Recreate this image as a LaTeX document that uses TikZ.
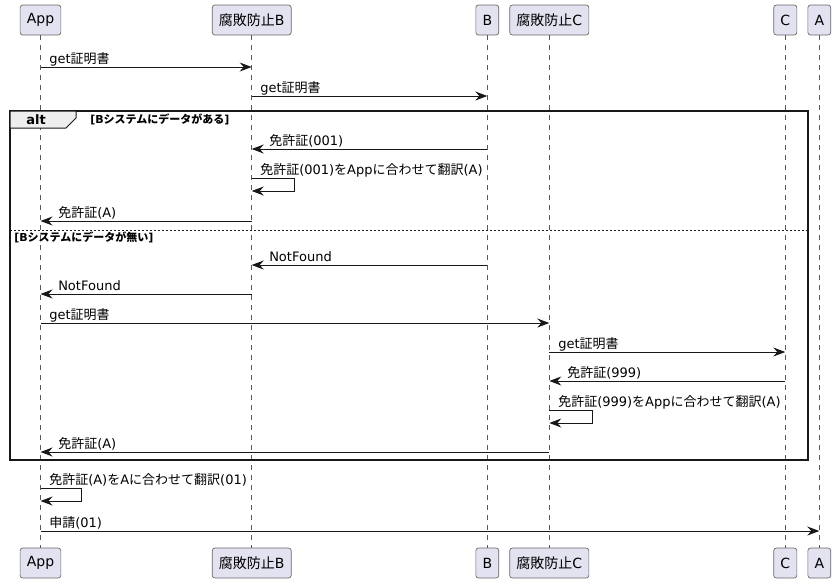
\documentclass[tikz,border=0pt]{standalone}
\usepackage{fontspec}
\setmainfont{DejaVu Sans}
\newfontfamily\jpfont{Noto Sans CJK JP}
\usetikzlibrary{arrows.meta}
\definecolor{partfill}{HTML}{E2E2F0}
\definecolor{linecol}{HTML}{181818}
\definecolor{tabfill}{HTML}{EEEEEE}

\begin{document}
\begin{tikzpicture}[x=0.75pt, y=-0.75pt, >={Stealth[length=9pt, width=6.75pt, inset=3pt]},
    part/.style={draw=black!60, fill=partfill, line width=0.5pt, rounded corners=2pt,
      minimum height=22.5pt, inner xsep=5pt, font=\fontsize{10.5}{12.6}\selectfont},
    lifeline/.style={draw=black!65, line width=0.4pt, dash pattern=on 3.75pt off 3.75pt},
    msg/.style={->, draw=linecol, line width=0.75pt},
    lbl/.style={anchor=base west, inner sep=0pt, font=\fontsize{9.75}{11.7}\selectfont},
    cond/.style={anchor=west, inner sep=0pt, font=\fontsize{8.25}{10}\selectfont\bfseries}]
    \useasboundingbox (0,0) rectangle (837,583);

    % Participants, top and bottom
    \node[part] (app) at (40.5,20) {App};
    \node[part] (acb) at (251.7,20) {{\jpfont 腐敗防止}B};
    \node[part] (sysb) at (487.3,20) {B};
    \node[part] (acc) at (549.3,20) {{\jpfont 腐敗防止}C};
    \node[part] (sysc) at (785.3,20) {C};
    \node[part] (sysa) at (819.3,20) {A};

    \node[part] (app2) at (40.5,563) {App};
    \node[part] (acb2) at (251.7,563) {{\jpfont 腐敗防止}B};
    \node[part] (sysb2) at (487.3,563) {B};
    \node[part] (acc2) at (549.3,563) {{\jpfont 腐敗防止}C};
    \node[part] (sysc2) at (785.3,563) {C};
    \node[part] (sysa2) at (819.3,563) {A};

    % Lifelines
    \foreach \p in {app, acb, sysb, acc, sysc, sysa}
      \draw[lifeline] (\p.south) -- (\p2.north);

    % Requests before the alt block
    \draw[msg] (app |- 0,67) -- (acb |- 0,67);
    \node[lbl] at (49,63) {get{\jpfont 証明書}};
    \draw[msg] (acb |- 0,96) -- (sysb |- 0,96);
    \node[lbl] at (260,92) {get{\jpfont 証明書}};

    % Alt frame
    \draw[draw=linecol, line width=1.125pt] (10,111) rectangle (808,460);
    \draw[draw=linecol, fill=tabfill, line width=0.75pt] (10,111) -- (76,111) -- (76,118) -- (66,128) -- (10,128) -- cycle;
    \node[font=\fontsize{9.75}{11.7}\selectfont\bfseries] (alt) at (36,119.5) {alt};
    \node[cond] (c1) at (90,119.5) {[B{\jpfont システムにデータがある}]};

    % Branch 1: data in B
    \draw[msg] (sysb |- 0,149) -- (acb |- 0,149);
    \node[lbl] at (269,145) {{\jpfont 免許証}(001)};
    \draw[msg] (acb |- 0,178) -- ++(43,0) -- ++(0,13) -- (acb |- 0,191);
    \node[lbl] at (260,174) {{\jpfont 免許証}(001){\jpfont を}App{\jpfont に合わせて翻訳}(A)};
    \draw[msg] (acb |- 0,221) -- (app |- 0,221);
    \node[lbl] at (58,217) {{\jpfont 免許証}(A)};

    % Else separator
    \draw[draw=linecol, line width=0.5pt, dash pattern=on 1.5pt off 1.5pt] (10,230) -- (808,230);
    \node[cond] (c2) at (14,237) {[B{\jpfont システムにデータが無い}]};

    % Branch 2: no data in B, ask C
    \draw[msg] (sysb |- 0,265) -- (acb |- 0,265);
    \node[lbl] at (269,261) {NotFound};
    \draw[msg] (acb |- 0,294) -- (app |- 0,294);
    \node[lbl] at (58,290) {NotFound};
    \draw[msg] (app |- 0,323) -- (acc |- 0,323);
    \node[lbl] at (49,319) {get{\jpfont 証明書}};
    \draw[msg] (acc |- 0,352) -- (sysc |- 0,352);
    \node[lbl] at (558,348) {get{\jpfont 証明書}};
    \draw[msg] (sysc |- 0,381) -- (acc |- 0,381);
    \node[lbl] at (567,377) {{\jpfont 免許証}(999)};
    \draw[msg] (acc |- 0,410) -- ++(43,0) -- ++(0,13) -- (acc |- 0,423);
    \node[lbl] at (558,406) {{\jpfont 免許証}(999){\jpfont を}App{\jpfont に合わせて翻訳}(A)};
    \draw[msg] (acc |- 0,452) -- (app |- 0,452);
    \node[lbl] at (58,448) {{\jpfont 免許証}(A)};

    % After the alt block
    \draw[msg] (app |- 0,488) -- ++(41,0) -- ++(0,13) -- (app |- 0,501);
    \node[lbl] at (49,484) {{\jpfont 免許証}(A){\jpfont を}A{\jpfont に合わせて翻訳}(01)};
    \draw[msg] (app |- 0,531) -- (sysa |- 0,531);
    \node[lbl] at (49,527) {{\jpfont 申請}(01)};
\end{tikzpicture}
\end{document}
